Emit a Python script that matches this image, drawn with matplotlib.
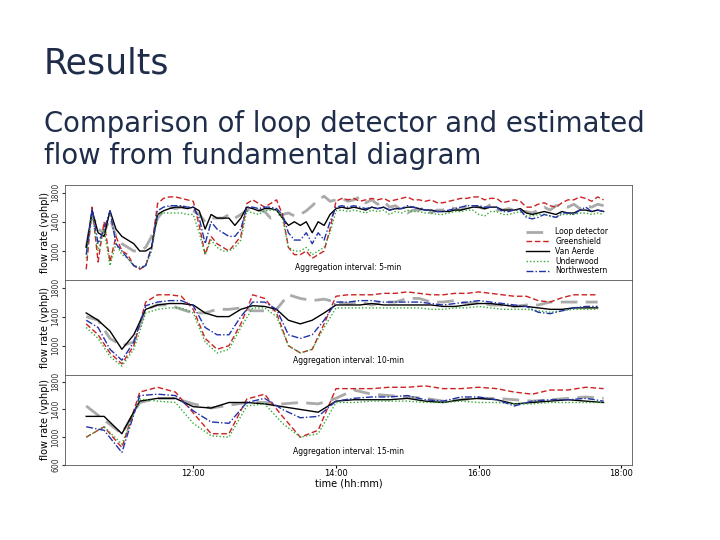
import numpy as np
import matplotlib
matplotlib.use("Agg")
import matplotlib.pyplot as plt

series_names = ["Loop detector", "Greenshield", "Van Aerde", "Underwood", "Northwestern"]

loop5 = [1050,1500,1300,1250,1450,1200, 1100,1050,1000,1000,1050,1200, 1450,1550,1600,1580,1600,1580,
         1550,1500,1400,1450,1450,1450, 1500,1450,1500,1560,1580,1560, 1540,1450,1500,1500,1520,1480,
         1500,1550,1620,1700,1750,1680, 1700,1720,1680,1700,1740,1660, 1700,1640,1680,1600,1620,1560,
         1520,1560,1560,1600,1520,1560, 1560,1600,1580,1560,1620,1620, 1600,1580,1640,1560,1560,1580,
         1560,1540,1540,1520,1560,1600, 1560,1620,1620,1600,1640,1580, 1620,1600,1640,1620]
green5 = [750,1600,850,1400,850,1200, 1000,950,800,750,800,1050, 1650,1720,1740,1740,1720,1700,
          1680,1350,950,1200,1100,1050, 1000,1100,1200,1650,1700,1650, 1600,1650,1700,1500,1050,950,
          950,1000,900,950,1000,1300, 1680,1720,1700,1720,1680,1700, 1720,1700,1720,1680,1700,1720,
          1740,1700,1700,1680,1700,1660, 1660,1680,1700,1720,1720,1740, 1740,1700,1720,1720,1660,1680,
          1700,1680,1600,1600,1640,1660, 1620,1600,1660,1700,1700,1740, 1720,1680,1740,1700]
van5 = [1050,1550,1250,1200,1550,1300, 1200,1150,1100,1000,1000,1050, 1500,1550,1580,1600,1600,1580,
        1600,1550,1300,1500,1450,1450, 1450,1350,1450,1600,1580,1550, 1580,1580,1560,1450,1350,1400,
        1350,1400,1250,1400,1350,1500, 1580,1600,1580,1600,1580,1560, 1600,1580,1600,1560,1580,1580,
        1600,1600,1580,1560,1560,1540, 1540,1540,1560,1560,1580,1600, 1600,1580,1600,1600,1560,1560,
        1560,1580,1520,1500,1520,1540, 1520,1500,1540,1520,1520,1560, 1560,1540,1560,1540]
under5 = [900,1500,1000,1300,800,1100, 950,900,800,780,800,1000, 1500,1520,1520,1520,1520,1500,
          1500,1250,950,1150,1050,1000, 1000,1050,1150,1550,1520,1500, 1550,1560,1560,1450,1050,1000,
          1000,1050,950,1000,1050,1250, 1550,1560,1540,1560,1540,1520, 1560,1540,1560,1500,1540,1520,
          1560,1540,1540,1520,1520,1500, 1500,1520,1540,1540,1560,1560, 1500,1480,1540,1540,1500,1500,
          1520,1540,1480,1480,1500,1500, 1480,1460,1500,1500,1500,1520, 1520,1500,1520,1500]
north5 = [950,1580,1100,1300,1550,1100, 1000,900,800,760,800,1050, 1550,1600,1620,1620,1620,1600,
          1600,1450,1100,1400,1300,1250, 1200,1200,1300,1600,1600,1580, 1600,1600,1580,1500,1250,1150,
          1150,1250,1100,1250,1150,1400, 1600,1620,1600,1620,1600,1580, 1600,1580,1600,1560,1580,1580,
          1620,1600,1580,1560,1560,1540, 1540,1560,1580,1600,1620,1620, 1620,1600,1600,1600,1540,1540,
          1560,1560,1460,1440,1460,1500, 1480,1460,1520,1520,1500,1560, 1600,1540,1560,1540]

loop10 = [1400,1350,1100,1000,1050,1500,1560,1560,1500,1450,1450,1500,1500,1520,1480,1480,1500,1700,1650,1620,
          1640,1600,1580,1600,1560,1600,1600,1650,1650,1600,1600,1620,1580,1600,1560,1560,1540,1560,1560,1600,
          1600,1600,1600,1600]
van10 = [1450,1350,1200,950,1150,1500,1560,1580,1580,1560,1450,1400,1400,1500,1550,1540,1500,1350,1300,1350,
         1450,1560,1560,1560,1580,1560,1560,1560,1560,1560,1540,1540,1560,1580,1580,1560,1540,1540,1520,1500,
         1500,1520,1520,1520]
green10 = [1300,1150,900,750,1000,1600,1700,1700,1680,1500,1100,950,1000,1300,1700,1650,1450,1000,900,950,
           1300,1680,1700,1700,1700,1720,1720,1740,1720,1700,1700,1720,1720,1740,1720,1700,1680,1680,1620,1600,
           1660,1700,1700,1700]
under10 = [1250,1100,850,720,950,1450,1500,1520,1520,1450,1050,900,950,1250,1520,1520,1400,1000,900,950,
           1250,1520,1520,1520,1520,1520,1520,1520,1520,1500,1500,1520,1520,1540,1520,1500,1500,1500,1480,1460,
           1480,1500,1500,1500]
north10 = [1350,1250,950,800,1050,1550,1600,1620,1620,1550,1250,1150,1150,1400,1600,1600,1500,1150,1100,1150,
           1350,1600,1600,1620,1620,1600,1600,1600,1600,1580,1560,1580,1600,1620,1600,1580,1560,1540,1460,1440,
           1480,1520,1540,1540]

loop15 = [1450,1250,1050,1500,1560,1560,1480,1420,1460,1500,1500,1480,1500,1480,1560,
          1680,1620,1600,1580,1560,1520,1540,1560,1560,1540,1520,1540,1560,1580,1560]
green15 = [1000,1150,850,1650,1720,1650,1350,1050,1050,1550,1620,1300,1000,1100,1700,
           1700,1700,1720,1720,1740,1700,1700,1720,1700,1650,1620,1680,1680,1720,1700]
van15 = [1300,1300,1050,1520,1560,1560,1440,1420,1500,1500,1480,1440,1400,1360,1520,
         1540,1540,1540,1560,1520,1500,1540,1560,1540,1480,1500,1520,1540,1520,1500]
under15 = [1000,1150,900,1550,1520,1500,1200,1020,1000,1450,1480,1200,1000,1050,1500,
           1500,1520,1520,1520,1500,1500,1520,1500,1500,1480,1480,1500,1500,1500,1500]
north15 = [1150,1100,780,1600,1620,1600,1380,1220,1200,1500,1560,1400,1280,1300,1520,
           1560,1580,1580,1600,1540,1520,1580,1580,1540,1450,1520,1540,1540,1560,1520]

xtick_labels = ["12:00", "14:00", "16:00", "18:00"]
xtick_hours = [12, 14, 16, 18]
interval_labels = ["Aggregation interval: 5-min", "Aggregation interval: 10-min", "Aggregation interval: 15-min"]

styles = [dict(color="#aaaaaa", ls=(0, (6, 3)), lw=2.0),
          dict(color="#cc2222", ls=(0, (4, 2)), lw=1.0),
          dict(color="black", ls="-", lw=1.0),
          dict(color="#33aa33", ls=(0, (1, 1.5)), lw=1.0),
          dict(color="#2233aa", ls=(0, (5, 1.5, 1, 1.5)), lw=1.0)]

panels = [(5, [loop5, green5, van5, under5, north5]),
          (10, [loop10, green10, van10, under10, north10]),
          (15, [loop15, green15, van15, under15, north15])]

fig = plt.figure(figsize=(7.2, 5.4), dpi=100)
fig.text(0.061, 0.883, "Results", fontsize=25, color="#1f2d4a", fontfamily="DejaVu Sans", va="center")
fig.text(0.061, 0.741, "Comparison of loop detector and estimated\nflow from fundamental diagram",
         fontsize=19.8, color="#1f2d4a", fontfamily="DejaVu Sans", va="center", linespacing=1.15)

tops = [0.657, 0.481, 0.306]
bots = [0.481, 0.306, 0.139]
for i, (step, data) in enumerate(panels):
    ax = fig.add_axes([0.09, bots[i], 0.788, tops[i] - bots[i]])
    for name, vals, st in zip(series_names, data, styles):
        t = 10.5 + np.arange(len(vals)) * step / 60.0
        ax.plot(t, vals, label=name, **st)
    ax.set_xlim(10.2, 18.15)
    ax.set_ylim(600, 1900)
    ax.set_yticks([600, 1000, 1400, 1800] if i == 2 else [1000, 1400, 1800])
    ax.tick_params(axis="y", labelsize=5.5, labelrotation=90, length=2, pad=1, colors="#333333")
    for lab in ax.get_yticklabels():
        lab.set_va("center")
    ax.set_ylabel("flow rate (vphpl)", fontsize=7, labelpad=1)
    ax.text(0.5, 0.13 if i == 0 else 0.15, interval_labels[i], transform=ax.transAxes,
            fontsize=5.5, ha="center", va="center")
    ax.set_xticks(xtick_hours)
    if i == 2:
        ax.set_xticklabels(xtick_labels)
        ax.tick_params(axis="x", labelsize=6, length=2, pad=1)
        ax.set_xlabel("time (hh:mm)", fontsize=7, labelpad=0)
    else:
        ax.tick_params(axis="x", length=0, labelbottom=False)
    for s in ax.spines.values():
        s.set_linewidth(0.6)
        s.set_color("#555555")
    if i == 0:
        ax.legend(loc="lower right", fontsize=5.5, frameon=False, handlelength=3,
                  labelspacing=0.1, bbox_to_anchor=(0.97, -0.02))

fig.savefig("out.png", dpi=100)
